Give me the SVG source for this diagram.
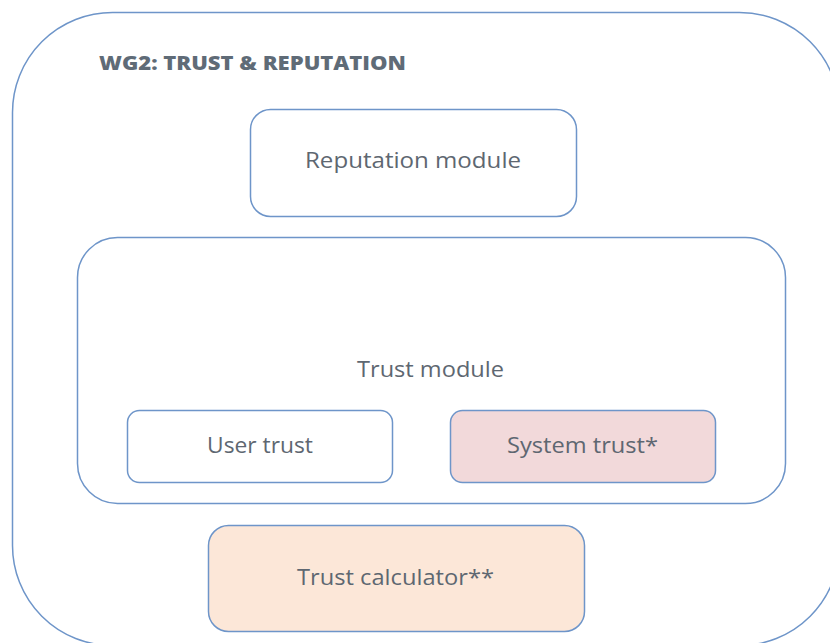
<svg xmlns="http://www.w3.org/2000/svg" width="830" height="643" viewBox="0 0 830 643">
<style>
.box{stroke:#6e95c9;stroke-width:1.5;}
.lbl{font-family:"Open Sans","Inter","Liberation Sans",sans-serif;font-size:21px;fill:#5e6771;text-anchor:middle;}
.ttl{font-family:"Open Sans","Inter","Liberation Sans",sans-serif;font-size:20px;font-weight:800;fill:#5f6b77;}
</style>
<rect width="830" height="643" fill="#ffffff"/>
<g id="wg2">
<rect class="box" x="12.5" y="12.5" width="827" height="633" rx="100" ry="100" fill="#ffffff"/>
<text class="ttl" x="99" y="70" textLength="307" lengthAdjust="spacingAndGlyphs">WG2: TRUST &amp; REPUTATION</text>
</g>
<g id="reputation-module">
<rect class="box" x="250.5" y="109.5" width="326" height="107" rx="20" fill="#ffffff"/>
<text class="lbl" x="413" y="168" textLength="216" lengthAdjust="spacingAndGlyphs">Reputation module</text>
</g>
<g id="trust-module">
<rect class="box" x="77.5" y="237.5" width="708" height="266" rx="40" fill="#ffffff"/>
<text class="lbl" x="430.5" y="377" textLength="147" lengthAdjust="spacingAndGlyphs">Trust module</text>
</g>
<g id="user-trust">
<rect class="box" x="127.5" y="410.5" width="265" height="72" rx="12" fill="#ffffff"/>
<text class="lbl" x="260" y="453" textLength="106" lengthAdjust="spacingAndGlyphs">User trust</text>
</g>
<g id="system-trust">
<rect class="box" x="450.5" y="410.5" width="265" height="72" rx="12" fill="#f2d9da"/>
<text class="lbl" x="582.5" y="453" textLength="151" lengthAdjust="spacingAndGlyphs">System trust*</text>
</g>
<g id="trust-calculator">
<rect class="box" x="208.5" y="525.5" width="376" height="106" rx="20" fill="#fce7d8"/>
<text class="lbl" x="395.5" y="585" textLength="197" lengthAdjust="spacingAndGlyphs">Trust calculator**</text>
</g>
<g id="connectors"></g>
</svg>
